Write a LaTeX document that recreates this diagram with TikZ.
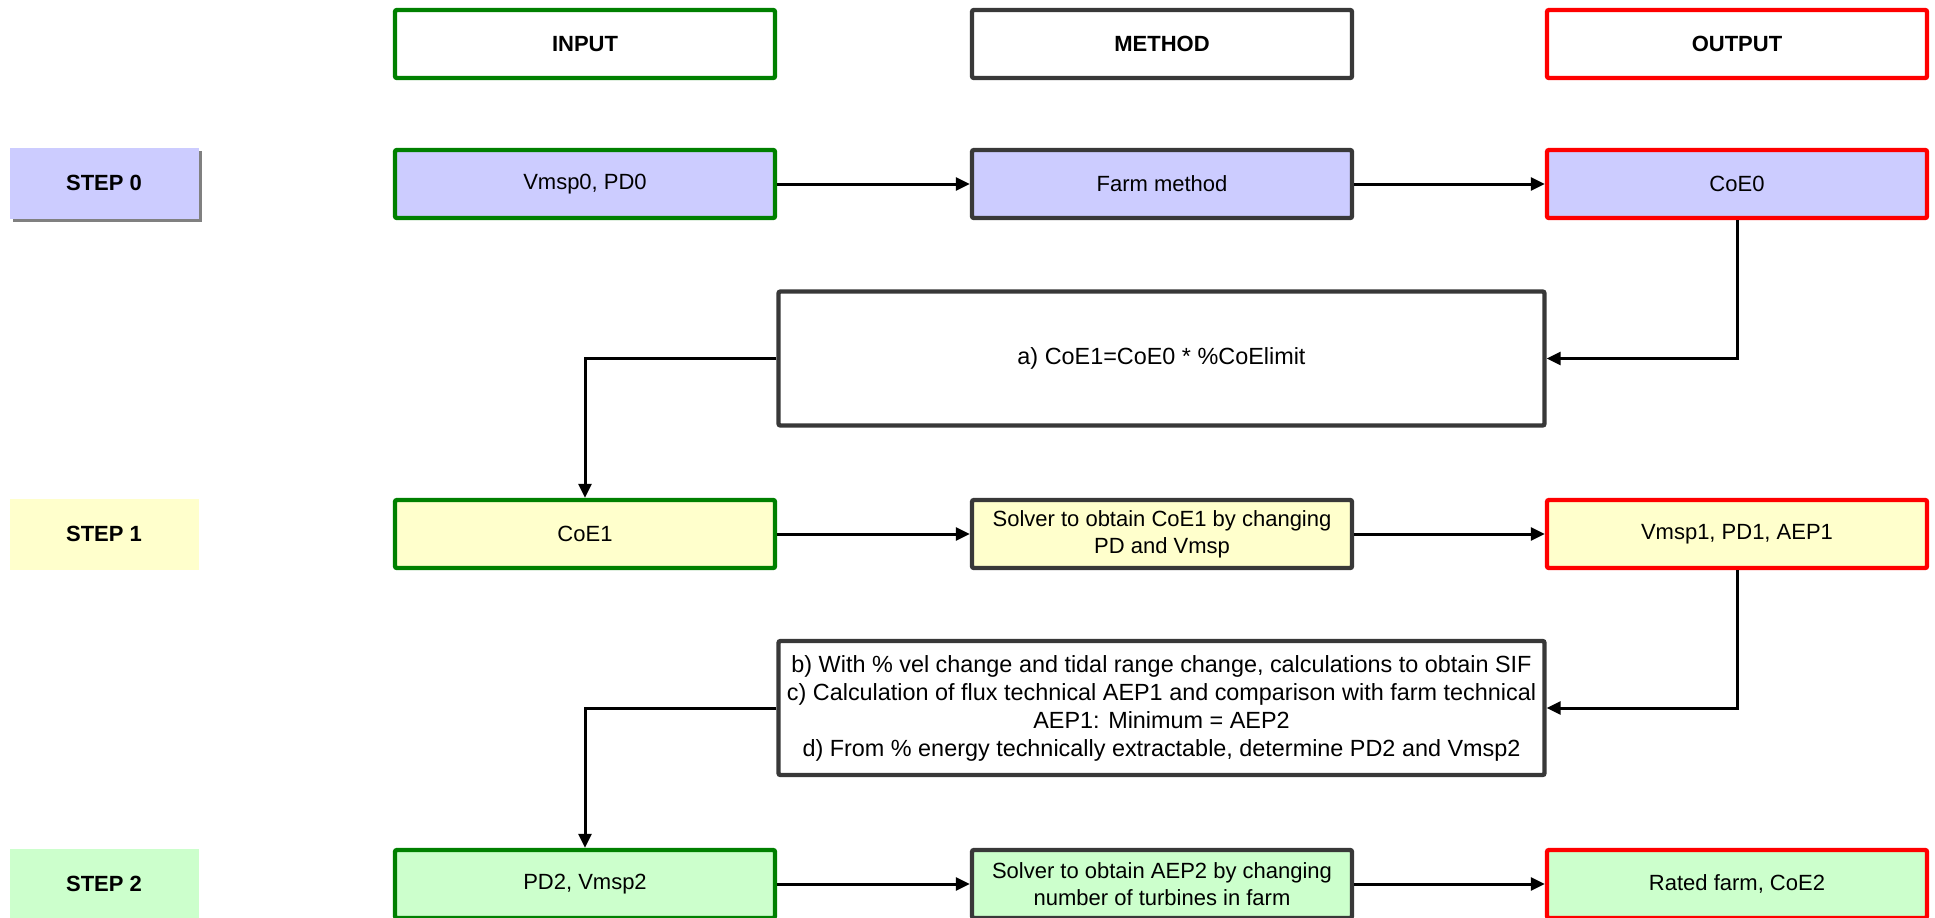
\documentclass[tikz,border=0pt]{standalone}
\usepackage{fontspec}
\setmainfont{Liberation Sans}
\usepackage{xcolor}
\definecolor{ingreen}{HTML}{008000}
\definecolor{methgray}{HTML}{383838}
\definecolor{outred}{HTML}{FF0000}
\definecolor{blue0}{HTML}{CCCCFF}
\definecolor{yellow1}{HTML}{FFFFCC}
\definecolor{green2}{HTML}{CCFFCC}
\usetikzlibrary{arrows.meta, shadows}
\tikzstyle{box} = [draw, rectangle, line width=2.2pt, rounded corners=1pt, align=center, font=\fontsize{11}{13.5}\selectfont, inner sep=0pt]
\tikzstyle{inbox} = [box, draw=ingreen, minimum width=190pt, minimum height=34pt]
\tikzstyle{methbox} = [box, draw=methgray, minimum width=190pt, minimum height=34pt]
\tikzstyle{outbox} = [box, draw=outred, minimum width=190pt, minimum height=34pt]
\tikzstyle{bigbox} = [box, draw=methgray, minimum width=383pt, minimum height=67pt, font=\fontsize{11.7}{14}\selectfont]
\tikzstyle{stepbox} = [rectangle, minimum width=94.5pt, minimum height=35.5pt, font=\fontsize{11}{13.5}\selectfont\bfseries]
\tikzstyle{link} = [line width=1.5pt, -{Triangle[length=7pt, width=6.5pt]}]

\begin{document}
\begin{tikzpicture}[x=0.5pt, y=-0.5pt]
	\useasboundingbox (0,0) rectangle (1935,917);
	\clip (0,0) rectangle (1935,917);
	%headers
	\node[inbox, font=\fontsize{11}{13.5}\selectfont\bfseries] (inhead) at (585,44) {INPUT};
	\node[methbox, font=\fontsize{11}{13.5}\selectfont\bfseries] (methhead) at (1162,44) {METHOD};
	\node[outbox, font=\fontsize{11}{13.5}\selectfont\bfseries] (outhead) at (1737,44) {OUTPUT};
	
	%steps
	\node[stepbox, fill=blue0, drop shadow={shadow xshift=1.5pt, shadow yshift=-1.5pt, fill=gray, opacity=1}] (step0) at (104,183) {STEP 0};
	\node[stepbox, fill=yellow1] (step1) at (104,534) {STEP 1};
	\node[stepbox, fill=green2] (step2) at (104,884) {STEP 2};
	
	%step 0
	\node[inbox, fill=blue0] (input0) at (585,184) {Vmsp0, PD0};
	\node[methbox, fill=blue0] (method0) at (1162,184) {Farm method};
	\node[outbox, fill=blue0] (output0) at (1737,184) {CoE0};
	\node[bigbox] (calc0) at (1161.5,358.5) {a) CoE1=CoE0 * \%CoElimit};
	
	%step 1
	\node[inbox, fill=yellow1] (input1) at (585,534) {CoE1};
	\node[methbox, fill=yellow1] (method1) at (1162,534) {Solver to obtain CoE1 by changing\\PD and Vmsp};
	\node[outbox, fill=yellow1] (output1) at (1737,534) {Vmsp1, PD1, AEP1};
	\node[bigbox] (calc1) at (1161.5,708) {b) With \% vel change and tidal range change, calculations to obtain SIF\\c) Calculation of flux technical AEP1 and comparison with farm technical\\AEP1: Minimum = AEP2\\d) From \% energy technically extractable, determine PD2 and Vmsp2};
	
	%step 2
	\node[inbox, fill=green2] (input2) at (585,884) {PD2, Vmsp2};
	\node[methbox, fill=green2] (method2) at (1162,884) {Solver to obtain AEP2 by changing\\number of turbines in farm};
	\node[outbox, fill=green2] (output2) at (1737,884) {Rated farm, CoE2};
	
	%arrows
	\draw[link] (input0) -- (method0);
	\draw[link] (method0) -- (output0);
	\draw[link] (output0.south) |- (calc0.east);
	\draw[link] (calc0.west) -| (input1.north);
	\draw[link] (input1) -- (method1);
	\draw[link] (method1) -- (output1);
	\draw[link] (output1.south) |- (calc1.east);
	\draw[link] (calc1.west) -| (input2.north);
	\draw[link] (input2) -- (method2);
	\draw[link] (method2) -- (output2);
\end{tikzpicture}
\end{document}
